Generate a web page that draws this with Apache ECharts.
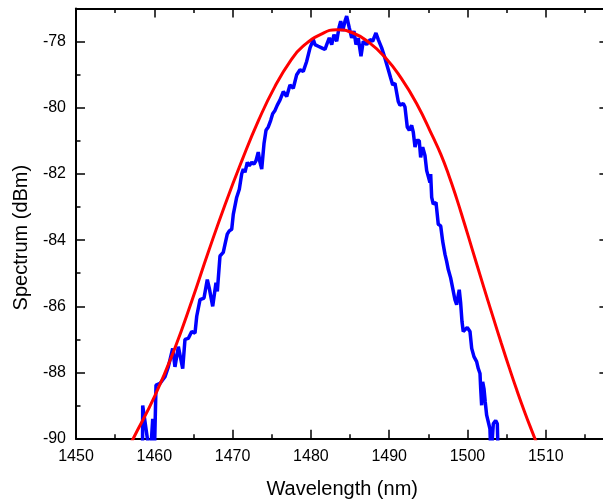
<!DOCTYPE html>
<html><head><meta charset="utf-8">
<script src="https://cdn.jsdelivr.net/npm/echarts@6/dist/echarts.min.js"></script>
<style>html,body{margin:0;padding:0;background:#fff}#c{width:603px;height:501px}</style>
</head><body><div id="c"></div>
<script>
// Measured spectrum (blue)
const blueWavelength = [1458.49,1458.52,1459.03,1459.48,1459.80,1460.00,1460.22,1460.73,1461.37,1461.79,1462.35,1462.64,1463.07,1463.63,1463.92,1464.34,1464.78,1465.20,1465.42,1465.84,1466.35,1466.77,1467.02,1467.46,1467.88,1468.05,1468.39,1468.81,1469.03,1469.32,1469.58,1469.89,1470.09,1470.52,1470.86,1471.16,1471.37,1471.58,1471.88,1472.13,1472.44,1472.73,1472.99,1473.28,1473.50,1473.72,1474.01,1474.27,1474.56,1474.87,1475.12,1475.42,1475.71,1476.05,1476.48,1476.91,1477.33,1477.75,1478.19,1478.61,1479.03,1479.46,1479.89,1480.31,1480.52,1480.94,1481.38,1481.80,1482.02,1482.35,1482.66,1482.95,1483.30,1483.59,1483.81,1484.06,1484.36,1484.57,1484.90,1485.21,1485.50,1485.76,1486.05,1486.40,1486.69,1487.13,1487.55,1487.89,1488.31,1488.61,1489.04,1489.46,1489.89,1490.19,1490.45,1490.74,1491.16,1491.38,1491.80,1492.02,1492.31,1492.57,1492.87,1493.08,1493.30,1493.51,1493.84,1494.02,1494.28,1494.57,1494.79,1494.99,1495.21,1495.30,1495.43,1495.63,1495.98,1496.27,1496.58,1496.83,1497.13,1497.34,1497.55,1497.85,1498.11,1498.40,1498.62,1498.83,1498.95,1499.13,1499.30,1499.46,1499.68,1499.97,1500.32,1500.54,1500.83,1501.17,1501.38,1501.60,1501.69,1501.81,1501.94,1502.11,1502.27,1502.45,1502.66,1502.87,1503.00,1503.30,1503.60,1503.81,1503.93];
const blueSpectrum = [-90.6,-89.0,-89.85,-90.6,-89.4,-90.6,-88.38,-88.33,-88.13,-87.83,-87.27,-87.83,-87.22,-87.88,-87.0,-86.97,-86.76,-86.81,-86.30,-85.80,-85.75,-85.19,-85.45,-86.00,-85.29,-85.55,-84.48,-84.37,-84.13,-83.82,-83.72,-83.67,-83.22,-82.71,-82.46,-82.00,-81.85,-81.95,-81.65,-81.75,-81.65,-81.70,-81.60,-81.34,-81.65,-81.85,-81.09,-80.68,-80.58,-80.38,-80.18,-80.08,-79.92,-79.77,-79.51,-79.66,-79.31,-79.41,-79.00,-78.85,-78.90,-78.60,-78.19,-77.94,-78.09,-78.14,-78.19,-78.24,-78.09,-77.89,-78.09,-77.79,-77.99,-77.58,-77.38,-77.68,-77.38,-77.23,-77.58,-77.89,-77.68,-78.09,-77.89,-78.44,-77.99,-78.09,-77.94,-77.99,-77.74,-77.94,-78.19,-78.50,-78.85,-79.10,-79.31,-79.26,-79.81,-79.92,-79.87,-79.98,-80.58,-80.68,-80.53,-80.74,-81.19,-80.99,-80.99,-81.50,-81.19,-81.44,-81.90,-81.85,-82.26,-82.00,-82.71,-82.91,-82.86,-83.52,-83.57,-84.03,-84.43,-84.64,-84.89,-85.14,-85.45,-85.80,-85.95,-85.65,-85.50,-85.90,-86.46,-86.76,-86.71,-86.64,-86.76,-87.27,-87.52,-87.67,-87.88,-88.03,-88.49,-88.99,-88.28,-88.49,-88.89,-89.29,-89.24,-89.70,-90.60,-89.55,-89.45,-89.55,-90.60];
// Fitted curve (red)
const redWavelength = [1457.0,1457.3,1460.1,1462.6,1464.8,1466.9,1469.0,1471.2,1473.3,1475.4,1477.5,1479.0,1481.2,1483.3,1485.4,1487.5,1489.5,1491.4,1493.5,1495.6,1496.6,1497.6,1498.6,1499.6,1500.6,1501.6,1502.6,1503.3,1504.3,1505.3,1506.3,1507.3,1508.3,1508.9,1509.3];
const redSpectrum = [-90.14,-90.0,-88.69,-87.28,-85.83,-84.36,-82.95,-81.59,-80.39,-79.36,-78.545,-78.14,-77.79,-77.64,-77.74,-78.04,-78.48,-79.06,-79.87,-80.89,-81.41,-82.03,-82.73,-83.49,-84.27,-85.05,-85.82,-86.35,-87.10,-87.83,-88.53,-89.19,-89.81,-90.17,-90.4];
// Tick labels
const xTickLabels = [1450,1460,1470,1480,1490,1500,1510];
const yTickLabels = [-90,-88,-86,-84,-82,-80,-78];

const font = '"Liberation Sans", Arial, sans-serif';
const X_MIN = 1450, X_MAX = 1518, Y_MIN = -90, Y_MAX = -77;
const lineStyle = {color:'#000', width:2};
const tickStyle = {color:'#000', width:1.5};

function xAx(pos, interval, len, withLine, withLabel) {
  const a = {
    type:'value', position:pos, min:X_MIN, max:X_MAX, interval:interval,
    splitLine:{show:false},
    axisLine:{show:withLine, onZero:false, lineStyle:lineStyle},
    axisTick:{show:true, inside:true, length:len, lineStyle:tickStyle},
    axisLabel:{show:withLabel, color:'#000', fontSize:16, fontFamily:font, margin:10,
      formatter: v => xTickLabels.includes(Math.round(v*1000)/1000) ? String(v) : ''}
  };
  if (withLabel) {
    a.name = 'Wavelength (nm)'; a.nameLocation = 'middle'; a.nameGap = 41;
    a.nameTextStyle = {fontSize:20, color:'#000', fontFamily:font};
  }
  return a;
}
function yAx(pos, interval, len, withLine, withLabel) {
  const a = {
    type:'value', position:pos, min:Y_MIN, max:Y_MAX, interval:interval,
    splitLine:{show:false},
    axisLine:{show:withLine, onZero:false, lineStyle:lineStyle},
    axisTick:{show:true, inside:true, length:len, lineStyle:tickStyle},
    axisLabel:{show:withLabel, color:'#000', fontSize:16, fontFamily:font, margin:10,
      formatter: v => yTickLabels.includes(Math.round(v*1000)/1000) ? String(v) : ''}
  };
  if (withLabel) {
    a.name = 'Spectrum (dBm)'; a.nameLocation = 'middle'; a.nameGap = 41;
    a.nameTextStyle = {fontSize:20, color:'#000', fontFamily:font, padding:[0,28,0,0]};
  }
  return a;
}

const chart = echarts.init(document.getElementById('c'), null, {renderer:'canvas'});
chart.setOption({
  animation:false,
  backgroundColor:'#fff',
  grid:{left:76, top:8.5, width:532.4, height:430.2, containLabel:false, outerBoundsMode:'none'},
  xAxis:[xAx('bottom',10,9,true,true), xAx('bottom',5,4.5,false,false), xAx('top',10,9,true,false), xAx('top',5,4.5,false,false)],
  yAxis:[yAx('left',2,9,true,true), yAx('left',1,4.5,false,false), yAx('right',2,9,true,false), yAx('right',1,4.5,false,false)],
  series:[
    {type:'line', name:'measured', xAxisIndex:0, yAxisIndex:0, showSymbol:false, symbol:'none', clip:true,
     lineStyle:{color:'#0000FF', width:3.5}, data: blueWavelength.map((x,i)=>[x, blueSpectrum[i]])},
    {type:'line', name:'fit', xAxisIndex:0, yAxisIndex:0, showSymbol:false, symbol:'none', clip:true, smooth:true,
     lineStyle:{color:'#FF0000', width:3}, data: redWavelength.map((x,i)=>[x, redSpectrum[i]])}
  ]
});
</script></body></html>
